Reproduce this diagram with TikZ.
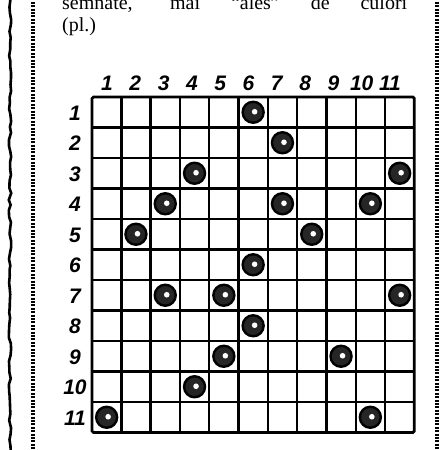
\documentclass[tikz,border=0pt]{standalone}
\usepackage{fontspec}
\setmainfont{Liberation Serif}
\newfontfamily\handdigits{Liberation Sans}
\usetikzlibrary{decorations.pathmorphing}

\begin{document}
\begin{tikzpicture}[
  x=1pt, y=-1pt,
  txt/.style={anchor=base west, inner sep=0pt, font=\fontsize{20}{20}\selectfont},
  num/.style={inner sep=0pt, font=\handdigits\fontsize{21}{21}\selectfont\bfseries\itshape},
  stone/.style={circle, draw, line width=2.4pt, fill=black!85, minimum size=21pt, inner sep=0pt,
    path picture={\fill[white] ([shift={(1.5pt,0.5pt)}]path picture bounding box.center) circle (2.8pt);}},
  gridline/.style={line width=2.4pt},
  dotline/.style={line width=4pt, dash pattern=on 2pt off 1.4pt},
  wavy/.style={line width=2.6pt, decorate, decoration={random steps, segment length=6pt, amplitude=1.2pt}}
]
\useasboundingbox (0,0) rectangle (442,450);
\clip (0,0) rectangle (442,450);

\pgfmathsetseed{7}
\draw[wavy] (10,-5) -- (10,455);
\draw[dotline] (33,-5) -- (33,455);
\draw[dotline] (437,-5) -- (437,455);

\node[txt] (line1) at (62,9) {\makebox[345pt][s]{semnate, mai ``ales'' de culori}};
\node[txt] (line2) at (62,31) {(pl.)};

\draw[gridline, line width=2.8pt, rounded corners=1.5pt] (92,97) rectangle (414.3,432.5);
\foreach \i in {1,...,10} {
  \draw[gridline] ({92+\i*29.3},97) -- ({92+\i*29.3},432.5);
  \draw[gridline] (92,{97+\i*30.5}) -- (414.3,{97+\i*30.5});
}

\foreach \i in {1,...,11} {
  \node[num] (col\i) at ({107+(\i-1)*28.3},83) {\i};
  \node[num] (row\i) at (75,{113+(\i-1)*30.5}) {\i};
}

\foreach \r/\c in {1/6, 2/7, 3/4, 3/11, 4/3, 4/7, 4/10, 5/2, 5/8, 6/6, 7/3, 7/5, 7/11, 8/6, 9/5, 9/9, 10/4, 11/1, 11/10}
  \node[stone] (s\r-\c) at ({92+(\c-0.5)*29.3},{97+(\r-0.5)*30.5}) {};
\end{tikzpicture}
\end{document}
